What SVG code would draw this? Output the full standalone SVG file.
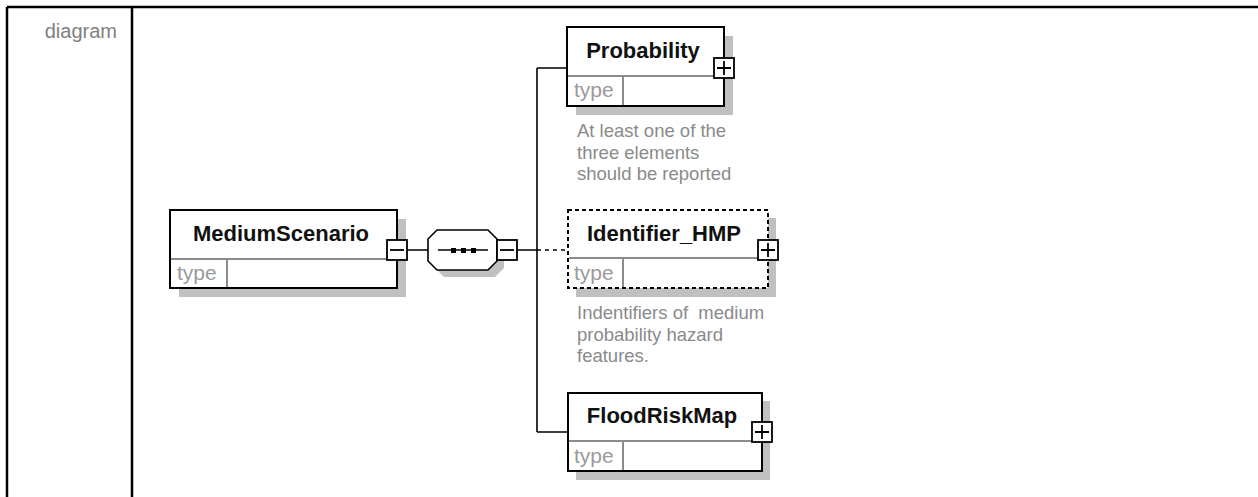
<svg xmlns="http://www.w3.org/2000/svg" width="1258" height="497" viewBox="0 0 1258 497">
<style>
.frame{stroke:#000;stroke-width:2.5;fill:none}
.lbl{font-family:"Liberation Sans",Arial,sans-serif;font-size:20px;fill:#808080}
.box{fill:#fff;stroke:#000;stroke-width:2}
.dbox{fill:#fff;stroke:#000;stroke-width:2;stroke-dasharray:4,3}
.shadow{fill:#c0c0c0}
.div{stroke:#8c8c8c;stroke-width:2;fill:none}
.name{font-family:"Liberation Sans",Arial,sans-serif;font-weight:bold;font-size:22px;fill:#111;text-anchor:middle}
.type{font-family:"Liberation Sans",Arial,sans-serif;font-size:21px;fill:#9a9a9a}
.ann{font-family:"Liberation Sans",Arial,sans-serif;font-size:18.5px;fill:#8a8a8a}
.conn{stroke:#000;stroke-width:1.6;fill:none}
.dconn{stroke:#000;stroke-width:1.6;fill:none;stroke-dasharray:4,4}
.pm{fill:#fff;stroke:#000;stroke-width:1.8}
.pml{stroke:#000;stroke-width:1.8}
</style>
<rect width="1258" height="497" fill="#fff"/>
<g id="frame">
<path class="frame" d="M7,7 H1258 M7,7 V497 M132,7 V497"/>
<text class="lbl" x="117" y="38" text-anchor="end">diagram</text>
</g>
<g id="connectors">
<path class="conn" d="M407,250 H428 M517,250 H537 M537,68 V432 M537,68 H567 M537,432 H568"/>
<path class="dconn" d="M537,250 H568"/>
</g>
<g id="MediumScenario">
<rect class="shadow" x="179" y="219" width="227" height="78"/>
<rect class="box" x="170" y="210" width="227" height="78"/>
<path class="div" d="M171,259 H396 M227,259 V287"/>
<text class="name" x="281" y="241">MediumScenario</text>
<text class="type" x="177" y="280">type</text>
<rect class="pm" x="387" y="240" width="20" height="20"/>
<path class="pml" d="M390,250 H404"/>
</g>
<g id="sequence">
<path class="shadow" d="M444,237 H495 L504,246 V268 L495,277 H444 L435,268 V246 Z"/>
<path fill="#fff" stroke="#000" stroke-width="1.6" d="M437,230 H488 L497,239 V261 L488,270 H437 L428,261 V239 Z"/>
<path class="conn" d="M438,250 H488"/>
<rect x="451" y="248" width="5" height="5" fill="#000"/>
<rect x="461" y="248" width="5" height="5" fill="#000"/>
<rect x="471" y="248" width="5" height="5" fill="#000"/>
<rect class="pm" x="497" y="240" width="20" height="20"/>
<path class="pml" d="M500,250 H514"/>
</g>
<g id="Probability">
<rect class="shadow" x="576" y="36" width="157" height="79"/>
<rect class="box" x="567" y="27" width="157" height="79"/>
<path class="div" d="M568,76 H723 M623,76 V105"/>
<text class="name" x="643" y="58">Probability</text>
<text class="type" x="574" y="97">type</text>
<rect class="pm" x="714" y="58" width="20" height="20"/>
<path class="pml" d="M717,68 H731 M724,61 V75"/>
<text class="ann" x="577" y="137">At least one of the</text>
<text class="ann" x="577" y="159">three elements</text>
<text class="ann" x="577" y="180">should be reported</text>
</g>
<g id="Identifier_HMP">
<rect class="shadow" x="576" y="218" width="200" height="79"/>
<rect class="dbox" x="568" y="210" width="200" height="78"/>
<path class="div" d="M569,258 H767 M623,258 V287"/>
<text class="name" x="664" y="241">Identifier_HMP</text>
<text class="type" x="574" y="280">type</text>
<rect class="pm" x="758" y="240" width="20" height="20"/>
<path class="pml" d="M761,250 H775 M768,243 V257"/>
<text class="ann" x="577" y="319" xml:space="preserve">Indentifiers of  medium</text>
<text class="ann" x="577" y="341">probability hazard</text>
<text class="ann" x="577" y="362">features.</text>
</g>
<g id="FloodRiskMap">
<rect class="shadow" x="576" y="401" width="194" height="79"/>
<rect class="box" x="568" y="393" width="194" height="78"/>
<path class="div" d="M569,441 H761 M623,441 V470"/>
<text class="name" x="662" y="423">FloodRiskMap</text>
<text class="type" x="574" y="463">type</text>
<rect class="pm" x="752" y="422" width="20" height="20"/>
<path class="pml" d="M755,432 H769 M762,425 V439"/>
</g>
</svg>
